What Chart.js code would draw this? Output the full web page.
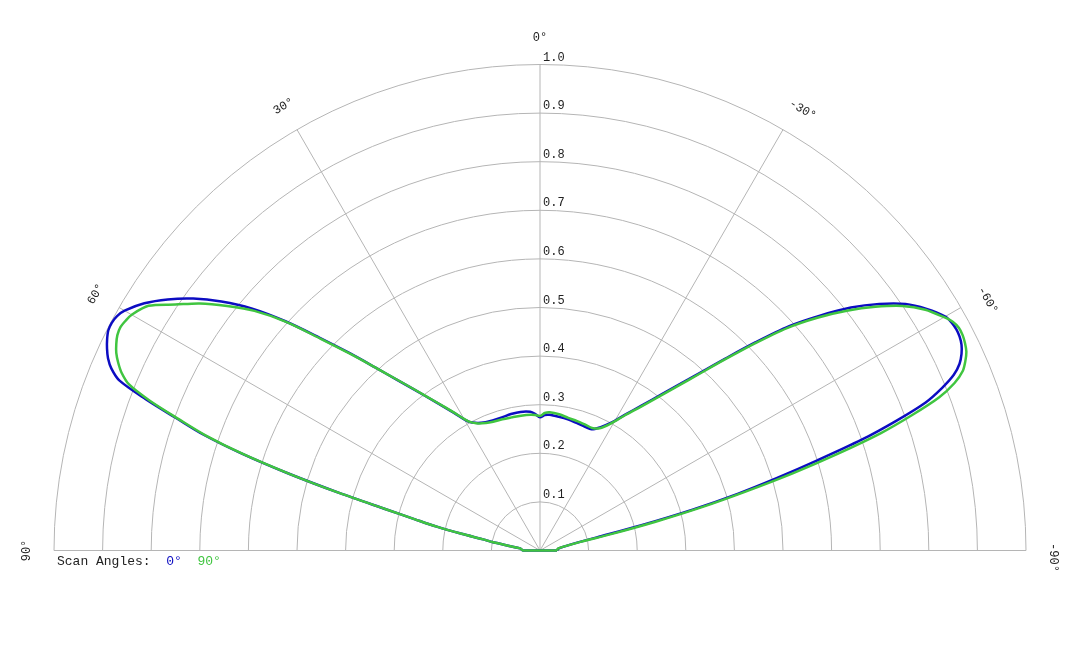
<!DOCTYPE html>
<html lang="en">
<head>
  <meta charset="UTF-8">
  <title>Scan Angles - polar plot</title>
  <script src="https://cdn.jsdelivr.net/npm/chart.js"></script>
  <style>
    html, body { margin: 0; padding: 0; background: #fff; }
    canvas { display: block; }
  </style>
</head>
<body>
  <canvas id="polarChart" width="1080" height="648"></canvas>

  <script>
    // angle in degrees, positive = left of 0° (counter-clockwise), as on the plot labels
    const angles = [
      -90, -84, -80, -78, -77, -76, -75, -74, -73, -72, -71, -70, -69, -68, -67, -66,
      -65, -64, -63, -62, -61, -60, -58, -56, -54, -52, -50, -48, -46, -44, -42, -40,
      -38, -35, -32, -29, -26, -23, -20, -16, -12, -8, -4, -2, 0, 2, 4, 8, 12, 16, 20,
      23, 26, 29, 32, 35, 38, 40, 42, 44, 46, 48, 50, 52, 54, 56, 58, 60, 61, 62, 63,
      64, 65, 66, 67, 68, 69, 70, 71, 72, 73, 74, 75, 76, 77, 78, 79, 80, 84, 90
    ];

    // scan angle 0° (blue)
    const scan0 = [
      0.035, 0.038, 0.055, 0.080, 0.120, 0.215, 0.325, 0.423, 0.509, 0.600, 0.700, 0.780, 0.850, 0.892, 0.925, 0.945,
      0.957, 0.965, 0.969, 0.970, 0.968, 0.963, 0.938, 0.907, 0.863, 0.812, 0.752, 0.690, 0.617, 0.549, 0.492, 0.446,
      0.409, 0.364, 0.329, 0.300, 0.282, 0.271, 0.271, 0.273, 0.276, 0.278, 0.280, 0.279, 0.274, 0.281, 0.286, 0.288, 0.287, 0.285, 0.285,
      0.287, 0.292, 0.303, 0.334, 0.372, 0.420, 0.459, 0.507, 0.565, 0.630, 0.705, 0.775, 0.832, 0.882, 0.924, 0.960, 0.987, 0.995, 0.998, 0.997,
      0.991, 0.983, 0.973, 0.958, 0.933, 0.869, 0.797, 0.733, 0.645, 0.540, 0.430, 0.330, 0.265, 0.218, 0.165, 0.115, 0.100, 0.041, 0.035
    ];

    // scan angle 90° (green)
    const scan90 = [
      0.035, 0.037, 0.055, 0.085, 0.150, 0.245, 0.345, 0.440, 0.545, 0.645, 0.742, 0.815, 0.880, 0.920, 0.945, 0.958,
      0.968, 0.973, 0.976, 0.976, 0.971, 0.960, 0.935, 0.900, 0.853, 0.801, 0.745, 0.684, 0.612, 0.545, 0.488, 0.442,
      0.405, 0.361, 0.327, 0.298, 0.280, 0.274, 0.275, 0.277, 0.279, 0.283, 0.285, 0.283, 0.277, 0.279, 0.280, 0.280, 0.280, 0.281, 0.282,
      0.285, 0.291, 0.304, 0.335, 0.373, 0.421, 0.460, 0.507, 0.563, 0.627, 0.703, 0.767, 0.817, 0.865, 0.905, 0.950, 0.970, 0.975, 0.978, 0.976,
      0.970, 0.962, 0.950, 0.935, 0.912, 0.860, 0.792, 0.728, 0.643, 0.538, 0.430, 0.330, 0.265, 0.218, 0.165, 0.115, 0.100, 0.041, 0.035
    ];

    const ringTicks = [0.1, 0.2, 0.3, 0.4, 0.5, 0.6, 0.7, 0.8, 0.9, 1.0];
    const spokeAngles = [90, 60, 30, 0, -30, -60, -90];
    const seriesNames = ['0°', '90°'];
    const seriesColors = ['#0c0cc2', '#40c540'];
    const legendTitle = 'Scan Angles:';

    const rad = d => d * Math.PI / 180;

    // polar -> x/y in data units, contour closed back on its first point
    function toPoints(values) {
      const pts = angles.map((a, i) => ({ x: -values[i] * Math.sin(rad(a)), y: values[i] * Math.cos(rad(a)) }));
      pts.push(pts[0]);
      return pts;
    }

    const polarGrid = {
      id: 'polarGrid',
      beforeDatasetsDraw(chart) {
        const { ctx, scales: { x, y } } = chart;
        const cx = x.getPixelForValue(0);
        const cy = y.getPixelForValue(0);
        const R = x.getPixelForValue(1) - cx;

        ctx.save();
        ctx.strokeStyle = '#b5b5b5';
        ctx.lineWidth = 1;
        ringTicks.forEach(t => {
          ctx.beginPath();
          ctx.arc(cx, cy, t * R, Math.PI, 2 * Math.PI);
          ctx.stroke();
        });
        spokeAngles.forEach(a => {
          ctx.beginPath();
          ctx.moveTo(cx, cy);
          ctx.lineTo(cx - R * Math.sin(rad(a)), cy - R * Math.cos(rad(a)));
          ctx.stroke();
        });

        // ring values just above each ring on the 0° spoke
        ctx.fillStyle = '#222';
        ctx.font = '12px "Liberation Mono", "DejaVu Sans Mono", monospace';
        ctx.textBaseline = 'middle';
        ctx.textAlign = 'left';
        ringTicks.forEach(t => ctx.fillText(t.toFixed(1), cx + 3, cy - t * R - 7));

        // angle labels outside the outer ring, turned along the arc
        ctx.textAlign = 'center';
        spokeAngles.forEach(a => {
          const lr = R + 27;
          ctx.save();
          ctx.translate(cx - lr * Math.sin(rad(a)), cy - lr * Math.cos(rad(a)));
          ctx.rotate(-rad(a));
          ctx.fillText(a + '°', a < 0 ? 7 : 0, 0);
          ctx.restore();
        });
        ctx.restore();
      },
      afterDraw(chart) {
        const { ctx, scales: { x, y } } = chart;
        const left = x.getPixelForValue(-1) + 3;
        const top = y.getPixelForValue(0) + 11;
        ctx.save();
        ctx.font = '13px "Liberation Mono", "DejaVu Sans Mono", monospace';
        ctx.textBaseline = 'middle';
        ctx.textAlign = 'left';
        const cw = ctx.measureText('M').width;
        ctx.fillStyle = '#222';
        ctx.fillText(legendTitle, left, top);
        let col = legendTitle.length + 2;
        seriesNames.forEach((name, i) => {
          ctx.fillStyle = seriesColors[i];
          ctx.fillText(name, left + col * cw, top);
          col += name.length + 2;
        });
        ctx.restore();
      }
    };

    new Chart(document.getElementById('polarChart'), {
      type: 'scatter',
      data: {
        datasets: [
          { label: seriesNames[0], data: toPoints(scan0), borderColor: seriesColors[0], order: 1 },
          { label: seriesNames[1], data: toPoints(scan90), borderColor: seriesColors[1], order: 0 }
        ].map(ds => Object.assign(ds, {
          showLine: true, pointRadius: 0, borderWidth: 2.5, tension: 0.3, clip: false
        }))
      },
      options: {
        responsive: false,
        animation: false,
        layout: { padding: { left: 54, right: 54, top: 64.5, bottom: 97.5 } },
        scales: {
          x: { type: 'linear', min: -1, max: 1, display: false },
          y: { type: 'linear', min: 0, max: 1, display: false }
        },
        plugins: { legend: { display: false }, tooltip: { enabled: false } }
      },
      plugins: [polarGrid]
    });
  </script>
</body>
</html>
